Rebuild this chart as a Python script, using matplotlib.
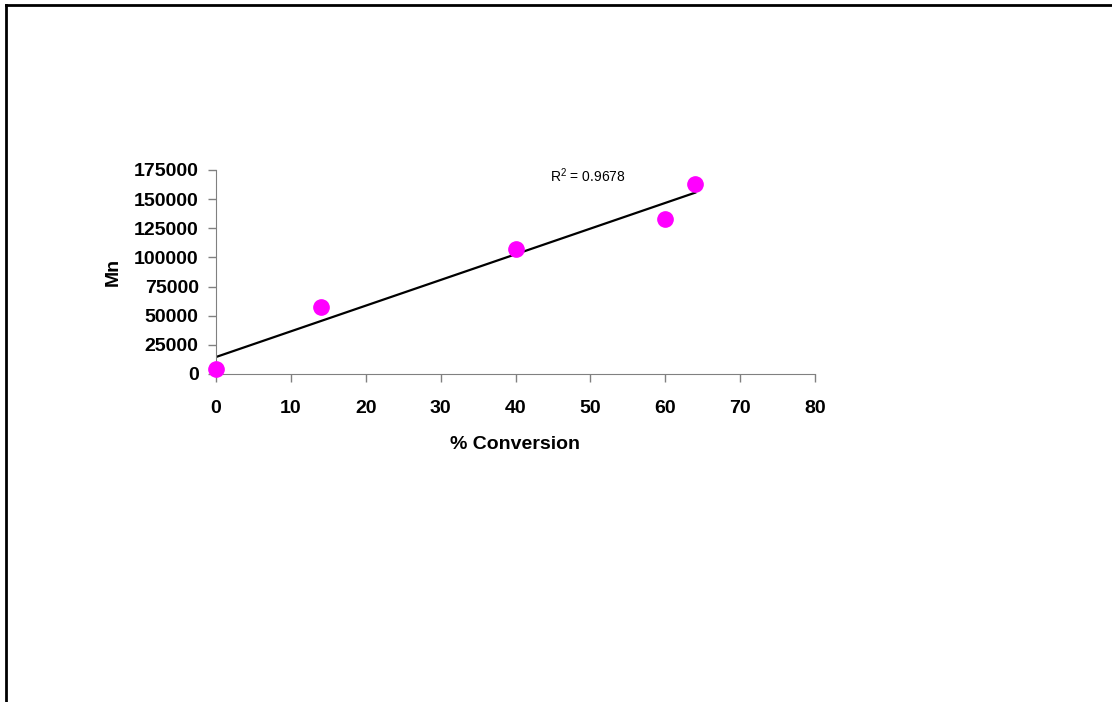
import numpy as np
import matplotlib
matplotlib.use("Agg")
import matplotlib.pyplot as plt
from matplotlib.lines import Line2D

plt.rcParams['font.family'] = ['Liberation Sans', 'DejaVu Sans']
plt.rcParams['mathtext.fontset'] = 'custom'
plt.rcParams['mathtext.rm'] = 'Liberation Sans'

conversion = [0, 14, 40, 60, 64]
mn = [4300, 57500, 107200, 133000, 163000]
r2_label = "0.9678"
x_ticks = [0, 10, 20, 30, 40, 50, 60, 70, 80]
y_ticks = [0, 25000, 50000, 75000, 100000, 125000, 150000, 175000]

fig = plt.figure(figsize=(11.12, 7.02), dpi=100)

# page frame (left and top edges)
fig.add_artist(Line2D([6 / 1112, 6 / 1112], [0, 1 - 5 / 702], color='black', lw=2))
fig.add_artist(Line2D([6 / 1112, 1], [1 - 5 / 702, 1 - 5 / 702], color='black', lw=2))

ax = fig.add_axes([216 / 1112, 1 - 374 / 702, 599 / 1112, 204 / 702])

# linear trendline
coef = np.polyfit(conversion, mn, 1)
xf = np.array([min(conversion), max(conversion)])
ax.plot(xf, np.polyval(coef, xf), color='black', lw=1.6, zorder=2)
ax.plot(conversion, mn, 'o', color='#FF00FF', markersize=11, zorder=3, clip_on=False)
ax.text(44.6, 170000, r"R$^2$ = " + r2_label, fontsize=10, va='center', ha='left')

ax.set_xlim(0, 80)
ax.set_ylim(0, 175000)
ax.set_xticks(x_ticks)
ax.set_yticks(y_ticks)
ax.tick_params(direction='out', length=5.5, width=1, color='#808080', labelsize=14)
ax.tick_params(axis='x', pad=13)
ax.tick_params(axis='y', pad=7)
for lab in ax.get_xticklabels() + ax.get_yticklabels():
    lab.set_fontweight('bold')
for s in ['top', 'right']:
    ax.spines[s].set_visible(False)
for s in ['left', 'bottom']:
    ax.spines[s].set_color('#808080')
ax.set_xlabel("% Conversion", fontsize=14, fontweight='bold', labelpad=14)
ax.set_ylabel("Mn", fontsize=14, fontweight='bold', labelpad=9)

fig.savefig("out.png", dpi=100)
